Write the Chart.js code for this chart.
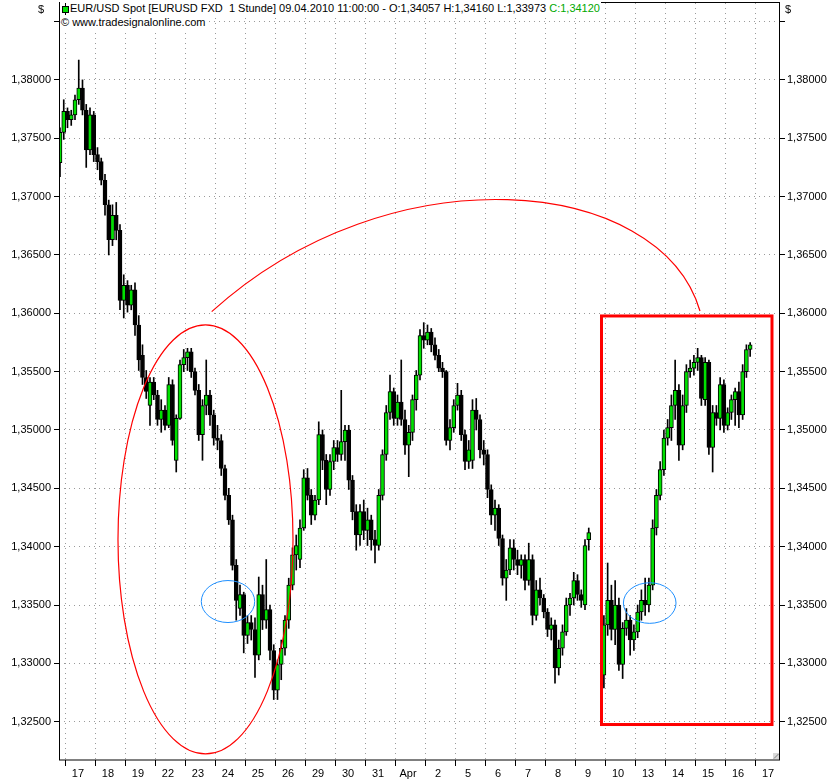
<!DOCTYPE html>
<html>
<head>
<meta charset="utf-8">
<script src="https://cdn.jsdelivr.net/npm/chart.js@4.4.1/dist/chart.umd.min.js"></script>
<style>
html,body{margin:0;padding:0;background:#fff;}
#wrap{position:relative;width:840px;height:780px;}
canvas{display:block;}
.txt{position:absolute;font:11px "Liberation Sans",Arial,sans-serif;color:#000;background:#fff;white-space:pre;line-height:13px;}
.icon{position:absolute;left:2px;top:1px;width:7px;height:12px;}
.icon .wick{position:absolute;left:3px;top:0;width:1px;height:12px;background:#000;}
.icon .body{position:absolute;left:0;top:3px;width:5px;height:5px;background:#00e000;border:1px solid #000;}
</style>
</head>
<body>
<div id="wrap">
  <canvas id="chart" width="840" height="780"></canvas>
  <div class="txt" style="left:38px;top:3px;background:none">$</div>
  <div class="txt" style="left:785px;top:3px;background:none">$</div>
  <div class="txt" style="left:60px;top:2px;padding-left:10px;padding-right:1px"><span class="icon"><span class="wick"></span><span class="body"></span></span>EUR/USD Spot [EURUSD FXD  1 Stunde] 09.04.2010 11:00:00 - O:1,34057 H:1,34160 L:1,33973 <span style="color:#00a800">C:1,34120</span></div>
  <div class="txt" style="left:61px;top:16px;padding-right:1px">© www.tradesignalonline.com</div>
</div>
<script>
// hourly EUR/USD, resampled to 3h candles
const mainOpen = [
  1.3729,1.3755,1.3773,1.3766,1.3770,1.3783,1.3793,1.3774,1.3740,1.3770,
  1.3736,1.3730,1.3714,1.3693,1.3663,1.3684,1.3671,1.3611,1.3624,1.3607,
  1.3620,1.3590,1.3564,1.3545,1.3521,1.3541,1.3530,1.3509,1.3517,1.3504,
  1.3539,1.3474,1.3510,1.3556,1.3562,1.3567,1.3550,1.3534,1.3496,1.3521,
  1.3530,1.3513,1.3493,1.3491,1.3467,1.3444,1.3423,1.3384,1.3347,1.3359,
  1.3324,1.3335,1.3329,1.3307,1.3359,1.3337,1.3346,1.3311,1.3277,1.3299,
  1.3313,1.3337,1.3367,1.3393,1.3389,1.3416,1.3459,1.3444,1.3427,1.3440,
  1.3496,1.3474,1.3449,1.3473,1.3485,1.3479,1.3490,1.3500,1.3457,1.3430,
  1.3410,1.3430,1.3414,1.3423,1.3406,1.3401,1.3444,1.3479,1.3515,1.3533,
  1.3510,1.3524,1.3509,1.3487,1.3498,1.3526,1.3547,1.3581,1.3577,1.3584,
  1.3573,1.3564,1.3553,1.3550,1.3491,1.3502,1.3521,1.3530,1.3496,1.3473,
  1.3474,1.3517,1.3509,1.3483,1.3479,1.3449,1.3427,1.3433,1.3407,1.3373,
  1.3380,1.3399,1.3389,1.3384,1.3389,1.3371,1.3389,1.3341,1.3363,1.3356,
  1.3344,1.3329,1.3333,1.3296,1.3313,1.3327,1.3350,1.3356,1.3371,1.3359,
  1.3350,1.3406];
const mainHigh = [
  1.3759,1.3783,1.3776,1.3774,1.3787,1.3817,1.3800,1.3779,1.3776,1.3773,
  1.3742,1.3733,1.3719,1.3697,1.3693,1.3695,1.3676,1.3633,1.3628,1.3624,
  1.3626,1.3598,1.3573,1.3551,1.3545,1.3545,1.3534,1.3526,1.3521,1.3545,
  1.3543,1.3513,1.3560,1.3569,1.3570,1.3570,1.3553,1.3539,1.3526,1.3560,
  1.3534,1.3517,1.3504,1.3496,1.3470,1.3450,1.3427,1.3389,1.3367,1.3361,
  1.3341,1.3341,1.3339,1.3374,1.3367,1.3389,1.3350,1.3316,1.3303,1.3320,
  1.3341,1.3373,1.3399,1.3410,1.3423,1.3466,1.3467,1.3449,1.3444,1.3507,
  1.3500,1.3479,1.3479,1.3491,1.3491,1.3534,1.3504,1.3504,1.3461,1.3436,
  1.3436,1.3440,1.3433,1.3427,1.3414,1.3449,1.3483,1.3521,1.3547,1.3536,
  1.3530,1.3560,1.3517,1.3504,1.3530,1.3551,1.3586,1.3592,1.3590,1.3587,
  1.3579,1.3569,1.3558,1.3551,1.3509,1.3526,1.3540,1.3534,1.3500,1.3491,
  1.3526,1.3527,1.3513,1.3491,1.3483,1.3453,1.3440,1.3436,1.3410,1.3389,
  1.3406,1.3406,1.3397,1.3393,1.3393,1.3403,1.3393,1.3371,1.3373,1.3359,
  1.3347,1.3339,1.3337,1.3320,1.3333,1.3356,1.3360,1.3378,1.3376,1.3363,
  1.3406,1.3416];
const mainLow = [
  1.3717,1.3749,1.3759,1.3761,1.3766,1.3779,1.3770,1.3725,1.3736,1.3730,
  1.3723,1.3710,1.3684,1.3650,1.3658,1.3663,1.3603,1.3596,1.3601,1.3603,
  1.3581,1.3551,1.3539,1.3527,1.3504,1.3526,1.3504,1.3498,1.3500,1.3502,
  1.3487,1.3464,1.3509,1.3550,1.3551,1.3545,1.3530,1.3491,1.3474,1.3513,
  1.3504,1.3487,1.3483,1.3461,1.3440,1.3419,1.3380,1.3337,1.3341,1.3309,
  1.3317,1.3320,1.3288,1.3303,1.3329,1.3330,1.3303,1.3269,1.3269,1.3286,
  1.3307,1.3330,1.3363,1.3380,1.3382,1.3414,1.3440,1.3419,1.3423,1.3436,
  1.3466,1.3436,1.3444,1.3466,1.3473,1.3474,1.3474,1.3449,1.3423,1.3397,
  1.3401,1.3406,1.3401,1.3397,1.3386,1.3397,1.3440,1.3474,1.3509,1.3504,
  1.3504,1.3504,1.3479,1.3460,1.3491,1.3517,1.3543,1.3570,1.3573,1.3567,
  1.3560,1.3550,1.3545,1.3487,1.3483,1.3498,1.3517,1.3491,1.3466,1.3467,
  1.3467,1.3500,1.3476,1.3470,1.3442,1.3419,1.3414,1.3401,1.3367,1.3354,
  1.3376,1.3380,1.3376,1.3373,1.3363,1.3367,1.3333,1.3337,1.3350,1.3339,
  1.3323,1.3320,1.3283,1.3290,1.3307,1.3324,1.3341,1.3350,1.3354,1.3348,
  1.3346,1.3397];
const mainClose = [
  1.3755,1.3773,1.3766,1.3770,1.3783,1.3793,1.3774,1.3740,1.3770,1.3736,
  1.3730,1.3714,1.3693,1.3663,1.3684,1.3671,1.3611,1.3624,1.3607,1.3620,
  1.3590,1.3560,1.3545,1.3533,1.3541,1.3530,1.3509,1.3517,1.3504,1.3539,
  1.3491,1.3510,1.3556,1.3562,1.3567,1.3550,1.3534,1.3496,1.3521,1.3530,
  1.3513,1.3493,1.3491,1.3467,1.3444,1.3423,1.3384,1.3354,1.3359,1.3324,
  1.3335,1.3329,1.3307,1.3359,1.3337,1.3346,1.3311,1.3277,1.3299,1.3313,
  1.3337,1.3367,1.3393,1.3401,1.3416,1.3459,1.3444,1.3427,1.3440,1.3496,
  1.3474,1.3449,1.3473,1.3485,1.3479,1.3490,1.3500,1.3457,1.3430,1.3410,
  1.3430,1.3414,1.3423,1.3406,1.3401,1.3444,1.3479,1.3515,1.3533,1.3510,
  1.3524,1.3509,1.3487,1.3498,1.3526,1.3547,1.3581,1.3577,1.3584,1.3573,
  1.3564,1.3553,1.3550,1.3491,1.3502,1.3521,1.3530,1.3496,1.3473,1.3483,
  1.3517,1.3509,1.3483,1.3479,1.3449,1.3427,1.3433,1.3407,1.3373,1.3380,
  1.3399,1.3389,1.3384,1.3389,1.3371,1.3389,1.3341,1.3363,1.3356,1.3344,
  1.3329,1.3333,1.3296,1.3313,1.3327,1.3350,1.3356,1.3371,1.3359,1.3354,
  1.3401,1.3412];

// the pasted pattern inside the red box
const boxOpen = [
  1.3290,1.3333,1.3354,1.3329,1.3350,1.3299,1.3330,1.3337,1.3320,1.3327,
  1.3344,1.3354,1.3350,1.3367,1.3416,1.3444,1.3466,1.3493,1.3502,1.3521,
  1.3534,1.3487,1.3521,1.3550,1.3553,1.3558,1.3562,1.3526,1.3558,1.3485,
  1.3515,1.3510,1.3539,1.3504,1.3515,1.3526,1.3533,1.3513,1.3550,1.3569];
const boxHigh = [
  1.3341,1.3386,1.3367,1.3371,1.3356,1.3335,1.3347,1.3341,1.3333,1.3350,
  1.3363,1.3373,1.3373,1.3423,1.3449,1.3473,1.3500,1.3509,1.3530,1.3560,
  1.3539,1.3530,1.3556,1.3560,1.3564,1.3570,1.3564,1.3562,1.3560,1.3521,
  1.3521,1.3545,1.3543,1.3519,1.3530,1.3536,1.3541,1.3556,1.3573,1.3575];
const boxLow = [
  1.3279,1.3324,1.3320,1.3316,1.3294,1.3287,1.3324,1.3307,1.3311,1.3322,
  1.3337,1.3341,1.3344,1.3363,1.3410,1.3440,1.3461,1.3487,1.3491,1.3509,
  1.3474,1.3483,1.3515,1.3545,1.3547,1.3551,1.3521,1.3521,1.3479,1.3464,
  1.3504,1.3500,1.3498,1.3500,1.3509,1.3504,1.3502,1.3509,1.3545,1.3563];
const boxClose = [
  1.3333,1.3354,1.3329,1.3350,1.3299,1.3330,1.3337,1.3320,1.3327,1.3344,
  1.3354,1.3350,1.3367,1.3416,1.3444,1.3466,1.3493,1.3502,1.3521,1.3534,
  1.3487,1.3521,1.3550,1.3553,1.3558,1.3562,1.3527,1.3558,1.3485,1.3515,
  1.3510,1.3539,1.3504,1.3515,1.3526,1.3533,1.3513,1.3550,1.3569,1.3573];

const dayLabels = ['17','18','19','22','23','24','25','26','29','30','31','Apr','2','5','6','7','8','9','10','13','14','15','16','17'];
const priceTicks = [1.325,1.33,1.335,1.34,1.345,1.35,1.355,1.36,1.365,1.37,1.375,1.38,1.385];

// time in trading days (0 = 17 March)
const mainStart = -0.2, boxStart = 17.93, barStep = 0.125;
const xMin = -0.233, xMax = 23.8;
const yMin = 1.32172, yMax = 1.38659;

const FONT = '"Liberation Sans", Arial, sans-serif';
const GREEN = '#00e000';

function candles(start, o, h, l, c){
  return o.map((v,i) => ({x: start + i*barStep, o: v, h: h[i], l: l[i], c: c[i]}));
}
const bars = candles(mainStart, mainOpen, mainHigh, mainLow, mainClose)
  .concat(candles(boxStart, boxOpen, boxHigh, boxLow, boxClose));

function fmtPrice(v){ return v > 1.3825 ? '' : v.toFixed(5).replace('.', ','); }

// drawn on top of the candles: ellipses, arc, box
const annotate = {
  id: 'annotate',
  afterDatasetsDraw(chart){
    const {ctx, scales:{x, y}} = chart;
    const px = v => x.getPixelForValue(v), py = v => y.getPixelForValue(v);
    const ell = (cx, cy, rx, ry) => {
      ctx.beginPath();
      ctx.ellipse(px(cx), py(cy), px(cx+rx)-px(cx), py(cy-ry)-py(cy), 0, 0, Math.PI*2);
      ctx.stroke();
    };
    ctx.save();
    ctx.strokeStyle = '#ff0000';
    ctx.lineWidth = 1.2;
    ell(4.65, 1.34062, 2.917, 0.01838);

    ctx.beginPath();
    ctx.moveTo(px(4.857), py(1.36014));
    ctx.bezierCurveTo(px(10.8), py(1.3740), px(19.8), py(1.37185), px(21.133), py(1.3602));
    ctx.stroke();

    ctx.lineWidth = 3;
    ctx.strokeRect(px(17.85), py(1.35977), px(23.533)-px(17.85), py(1.32476)-py(1.35977));

    ctx.strokeStyle = '#1e8fff';
    ctx.lineWidth = 1;
    ell(5.4, 1.3353, 0.89, 0.0018);
    ell(19.457, 1.33517, 0.877, 0.00174);
    ctx.restore();
  },
  afterDraw(chart){
    const {ctx, chartArea:a} = chart;
    ctx.save();
    ctx.strokeStyle = '#000';
    ctx.lineWidth = 1;
    ctx.strokeRect(a.left + 0.5, a.top - 0.5, a.right - a.left - 1, a.bottom - a.top + 0.5);
    // little size grip in the corner
    ctx.fillStyle = '#d8d8d8';
    ctx.fillRect(a.right - 7, a.bottom - 7, 6, 6);
    ctx.strokeStyle = '#808080';
    ctx.beginPath();
    ctx.moveTo(a.right - 6, a.bottom - 1.5); ctx.lineTo(a.right - 1.5, a.bottom - 6);
    ctx.stroke();
    ctx.restore();
  }
};

const yAxis = (pos, grid) => ({
  type: 'linear', position: pos, min: yMin, max: yMax,
  afterBuildTicks: s => { s.ticks = priceTicks.map(v => ({value: v})); },
  afterFit: s => { s.width = pos === 'left' ? 59 : 60; s.paddingTop = 0; s.paddingBottom = 0; },
  border: {display: false, dash: [1, 4]},
  grid: {display: true, drawOnChartArea: grid, color: '#9a9a9a', tickLength: 5, tickColor: '#000', tickBorderDash: []},
  ticks: {callback: v => fmtPrice(v), color: '#000', padding: pos === 'left' ? 3 : 2, font: {family: FONT, size: 11}}
});

new Chart(document.getElementById('chart'), {
  type: 'bar',
  data: {
    datasets: [
      {data: bars.map(b => ({x: b.x, y: [b.l, b.h]})), backgroundColor: '#000', barThickness: 1, grouped: false, order: 1},
      {data: bars.map(b => ({x: b.x, y: [b.o, b.c]})),
       backgroundColor: bars.map(b => b.c > b.o ? GREEN : '#000'),
       borderColor: '#000', borderWidth: 1, borderSkipped: false, barThickness: 4, grouped: false, order: 0}
    ]
  },
  options: {
    responsive: false,
    animation: false,
    devicePixelRatio: 1,
    layout: {padding: {top: 3, left: 0, right: 0, bottom: 0}},
    plugins: {legend: {display: false}, tooltip: {enabled: false}},
    scales: {
      x: {
        type: 'linear', min: xMin, max: xMax, offset: false,
        afterBuildTicks: s => { s.ticks = dayLabels.map((_, i) => ({value: i})); },
        afterFit: s => { s.height = 20; s.paddingLeft = 0; s.paddingRight = 0; },
        border: {display: false, dash: [1, 4]},
        grid: {offset: false, color: '#9a9a9a', tickLength: 6, tickColor: '#000', tickBorderDash: []},
        ticks: {callback: (v, i) => dayLabels[i], labelOffset: 12, padding: 1, maxRotation: 0, autoSkip: false,
                color: '#000', font: {family: FONT, size: 11}}
      },
      y: yAxis('left', true),
      y2: yAxis('right', false)
    }
  },
  plugins: [annotate]
});
</script>
</body>
</html>
